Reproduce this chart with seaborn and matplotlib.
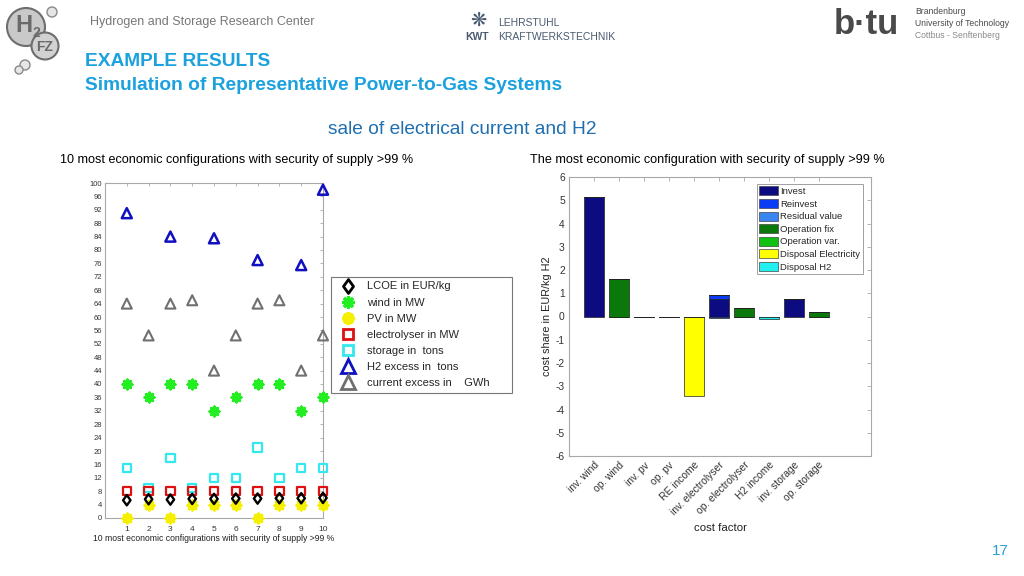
import numpy as np
import pandas as pd
import matplotlib
matplotlib.use("Agg")
import matplotlib.pyplot as plt
from matplotlib.lines import Line2D
from matplotlib.patches import Patch, Circle
from matplotlib.path import Path
import seaborn as sns

# ---------------- data ----------------
configs = [1, 2, 3, 4, 5, 6, 7, 8, 9, 10]
lcoe = [5.3, 5.6, 5.5, 5.7, 5.7, 5.8, 5.8, 5.9, 5.9, 6.0]
wind = [40, 36, 40, 40, 32, 36, 40, 40, 32, 36]
pv = [0, 4, 0, 4, 4, 4, 0, 4, 4, 4]
electrolyser = [8, 8, 8, 8, 8, 8, 8, 8, 8, 8]
storage = [15, 9, 18, 9, 12, 12, 21, 12, 15, 15]
h2_configs = [1, 3, 5, 7, 9, 10]
h2_excess = [91, 84, 83.5, 77, 75.5, 98]
current_excess = [64, 54.5, 64, 65, 44, 54.5, 64, 65, 44, 54.5]

cost_factors = ["inv. wind", "op. wind", "inv. pv", "op. pv", "RE income",
                "inv. electrolyser", "op. electrolyser", "H2 income",
                "inv. storage", "op. storage"]
invest = [5.15, 0, 0, 0, 0, 0.75, 0, 0, 0.75, 0]
reinvest = [0, 0, 0, 0, 0, 0.17, 0, 0, 0, 0]
residual = [0, 0, 0, 0, 0, -0.05, 0, 0, 0, 0]
op_fix = [0, 1.6, 0, 0, 0, 0, 0.35, 0, 0, 0.18]
op_var = [0, 0, 0, 0, 0, 0, 0, 0, 0, 0]
disp_el = [0, 0, 0, 0, -3.4, 0, 0, 0, 0, 0]
disp_h2 = [0, 0, 0, 0, 0, 0, 0, -0.1, 0, 0]

# ---------------- style ----------------
sns.set_theme(style="white")
plt.rcParams["font.family"] = ["Liberation Sans", "DejaVu Sans"]
plt.rcParams["axes.edgecolor"] = "#a8a8a8"
plt.rcParams["xtick.color"] = "#a8a8a8"
plt.rcParams["ytick.color"] = "#a8a8a8"
plt.rcParams["xtick.labelcolor"] = "#333333"
plt.rcParams["ytick.labelcolor"] = "#333333"

fig = plt.figure(figsize=(10.24, 5.76), dpi=100)
fig.patch.set_facecolor("white")

# ---------------- header ----------------
fig.text(90 / 1024, 1 - 22 / 576, "Hydrogen and Storage Research Center",
         fontsize=9, color="#777777", va="center", ha="left")
fig.text(85 / 1024, 1 - 62 / 576, "EXAMPLE RESULTS", fontsize=13.8, fontweight="bold",
         color="#1ba1de", va="center", ha="left")
fig.text(85 / 1024, 1 - 86 / 576, "Simulation of Representative Power-to-Gas Systems",
         fontsize=13.8, fontweight="bold", color="#1ba1de", va="center", ha="left")
fig.text(462 / 1024, 1 - 130 / 576, "sale of electrical current and H2", fontsize=13.8,
         color="#1f6fb0", va="center", ha="center")
fig.text(60 / 1024, 1 - 160 / 576,
         "10 most economic configurations with security of supply >99 %",
         fontsize=9.1, color="black", va="center", ha="left")
fig.text(530 / 1024, 1 - 160 / 576,
         "The most economic configuration with security of supply >99 %",
         fontsize=9.1, color="black", va="center", ha="left")
fig.text(1000 / 1024, 1 - 551 / 576, "17", fontsize=11, color="#2aa0d5",
         va="center", ha="center")

# KWT logo (text approximation)
fig.text(478 / 1024, 1 - 20 / 576, "\u274B", fontsize=14, color="#4a5a70",
         va="center", ha="center", family=["DejaVu Sans"])
fig.text(465 / 1024, 1 - 37 / 576, "KWT", fontsize=7.5, fontweight="bold",
         color="#4a5a70", va="center", ha="left")
fig.text(498 / 1024, 1 - 23 / 576, "LEHRSTUHL", fontsize=7.5, color="#4a5a70",
         va="center", ha="left")
fig.text(498 / 1024, 1 - 37 / 576, "KRAFTWERKSTECHNIK", fontsize=7.5, color="#4a5a70",
         va="center", ha="left")

# BTU logo (text approximation)
fig.text(866 / 1024, 1 - 24 / 576, "b\u00b7tu", fontsize=25, fontweight="bold",
         color="#4a4a4a", va="center", ha="center")
fig.text(915 / 1024, 1 - 12 / 576, "Brandenburg", fontsize=6.2, color="#4a4a4a",
         va="center", ha="left")
fig.text(915 / 1024, 1 - 23 / 576, "University of Technology", fontsize=6.2,
         color="#4a4a4a", va="center", ha="left")
fig.text(915 / 1024, 1 - 35 / 576, "Cottbus - Senftenberg", fontsize=6.2,
         color="#8a8a8a", va="center", ha="left")

# H2FZ logo
lax = fig.add_axes([0, 1 - 90 / 576, 80 / 1024, 90 / 576])
lax.set_xlim(0, 80)
lax.set_ylim(90, 0)
lax.axis("off")
for (cx, cy, r) in [(52, 12, 5), (25, 65, 5), (19, 70, 4)]:
    lax.add_patch(Circle((cx, cy), r, facecolor="#e6e6e6", edgecolor="#8a8a8a", lw=1))
lax.add_patch(Circle((26, 27), 19, facecolor="#c9c9c9", edgecolor="#6e6e6e", lw=1.5))
lax.add_patch(Circle((45, 46), 13.5, facecolor="#d2d2d2", edgecolor="#6e6e6e", lw=1.5))
lax.text(24, 26, "H", fontsize=17, fontweight="bold", color="#6a6a6a",
         ha="center", va="center")
lax.text(36, 33, "2", fontsize=10, fontweight="bold", color="#6a6a6a",
         ha="center", va="center")
lax.text(45, 47, "FZ", fontsize=10, fontweight="bold", color="#6a6a6a",
         ha="center", va="center")

# ---------------- left scatter chart ----------------
ax1 = fig.add_axes([105 / 1024, 1 - 518 / 576, (323 - 105) / 1024, (518 - 183) / 576])

diamond = Path([(0, 1), (0.72, 0), (0, -1), (-0.72, 0), (0, 1)],
               [Path.MOVETO, Path.LINETO, Path.LINETO, Path.LINETO, Path.CLOSEPOLY])
asterisk = (8, 2, 0)

series = [
    (h2_configs, h2_excess, "^", "#1010c0", 52, 1.8, True),
    (configs, current_excess, "^", "#707070", 52, 1.5, True),
    (configs, wind, asterisk, "#22ee22", 45, 2.0, False),
    (configs, storage, "s", "#33e8ee", 36, 1.6, True),
    (configs, electrolyser, "s", "#dd1111", 36, 1.6, True),
    (configs, pv, asterisk, "#f4f000", 38, 2.5, False),
    (configs, lcoe, diamond, "black", 55, 1.7, True),
]
for xs, ys, mk, col, size, lw, hollow in series:
    df = pd.DataFrame({"x": xs, "y": ys})
    sns.scatterplot(data=df, x="x", y="y", marker=mk, s=size, color=col,
                    linewidth=lw, ax=ax1, legend=False, clip_on=False, zorder=3)
    coll = ax1.collections[-1]
    if hollow:
        coll.set_facecolor("none")
    coll.set_edgecolor(col)
    coll.set_linewidth(lw)

ax1.set_xlim(0, 10)
ax1.set_ylim(0, 100)
ax1.set_xticks(configs)
ax1.set_yticks(np.arange(0, 101, 4))
ax1.tick_params(axis="both", direction="in", length=2.5, width=0.6, top=True,
                right=True, labelsize=5.5, pad=2)
ax1.tick_params(axis="x", labelsize=6, pad=6)
for s in ax1.spines.values():
    s.set_visible(True)
    s.set_linewidth(0.8)
ax1.set_xlabel("10 most economic configurations with security of supply >99 %",
               fontsize=6.2, color="#222222", labelpad=0.5)
ax1.set_ylabel("")

handles = [
    Line2D([], [], ls="none", marker=diamond, ms=10, mfc="none", mec="black", mew=2),
    Line2D([], [], ls="none", marker=asterisk, ms=9, mec="#22ee22", mew=2.3),
    Line2D([], [], ls="none", marker=asterisk, ms=9, mec="#f4f000", mew=2.6),
    Line2D([], [], ls="none", marker="s", ms=7, mfc="none", mec="#dd1111", mew=2),
    Line2D([], [], ls="none", marker="s", ms=7, mfc="none", mec="#33e8ee", mew=2),
    Line2D([], [], ls="none", marker="^", ms=9.5, mfc="none", mec="#1010c0", mew=2),
    Line2D([], [], ls="none", marker="^", ms=9.5, mfc="none", mec="#707070", mew=2),
]
labels = ["LCOE in EUR/kg", "wind in MW", "PV in MW", "electrolyser in MW",
          "storage in  tons", "H2 excess in  tons",
          "current excess in    GWh      "]
leg1 = fig.legend(handles, labels, loc="upper left",
                  bbox_to_anchor=(331 / 1024, 1 - 277 / 576), fontsize=8,
                  frameon=True, fancybox=False, edgecolor="#555555",
                  borderpad=0.4, labelspacing=0.55, handlelength=2.2,
                  handletextpad=0.6, borderaxespad=0)
leg1.get_frame().set_linewidth(0.8)

# ---------------- right bar chart ----------------
ax2 = fig.add_axes([569 / 1024, 1 - 456 / 576, (871 - 569) / 1024, (456 - 177) / 576])
xpos = np.arange(1, len(cost_factors) + 1)

layers = [
    ("Invest", invest, "#0c0c80"),
    ("Reinvest", reinvest, "#0a3cf5"),
    ("Residual value", residual, "#3a86f0"),
    ("Operation fix", op_fix, "#0a780a"),
    ("Operation var.", op_var, "#12c012"),
    ("Disposal Electricity", disp_el, "#ffff00"),
    ("Disposal H2", disp_h2, "#22f0f0"),
]
pos_bottom = np.zeros(len(cost_factors))
neg_bottom = np.zeros(len(cost_factors))
for name, vals, col in layers:
    vals = np.asarray(vals, dtype=float)
    bottom = np.where(vals >= 0, pos_bottom, neg_bottom)
    sns.barplot(x=xpos, y=vals, bottom=bottom, native_scale=True, width=0.8,
                color=col, saturation=1, edgecolor="#222222", linewidth=0.5,
                errorbar=None, ax=ax2, zorder=2)
    pos_bottom = pos_bottom + np.where(vals > 0, vals, 0)
    neg_bottom = neg_bottom + np.where(vals < 0, vals, 0)

ax2.set_xlim(0, 12.1)
ax2.set_ylim(-6, 6)
ax2.set_xticks(xpos)
ax2.set_xticklabels(cost_factors, rotation=45, ha="right", rotation_mode="anchor",
                    fontsize=7.4)
ax2.set_yticks(np.arange(-6, 7, 1))
ax2.set_yticklabels([str(v) for v in range(-6, 7)], fontsize=7.4)
ax2.tick_params(axis="both", direction="in", length=3, width=0.6, top=True,
                right=True, pad=3)
for s in ax2.spines.values():
    s.set_visible(True)
    s.set_linewidth(0.8)
ax2.set_xlabel("cost factor", fontsize=8.2, color="#222222", labelpad=4)
ax2.set_ylabel("cost share in EUR/kg H2", fontsize=7.8, color="#222222", labelpad=3)

patches = [Patch(facecolor=col, edgecolor="#444444", linewidth=0.5)
           for _, _, col in layers]
leg2 = ax2.legend(patches, [n for n, _, _ in layers], loc="upper left",
                  bbox_to_anchor=((757 - 569) / (871 - 569), 1 - (184 - 177) / (456 - 177)),
                  fontsize=6.8, frameon=True, fancybox=False, edgecolor="#888888",
                  borderpad=0.25, labelspacing=0.3, handlelength=2.0,
                  handleheight=1.1, handletextpad=0.2, borderaxespad=0)
leg2.get_frame().set_linewidth(0.7)

fig.savefig("out.png", dpi=100, facecolor="white")
